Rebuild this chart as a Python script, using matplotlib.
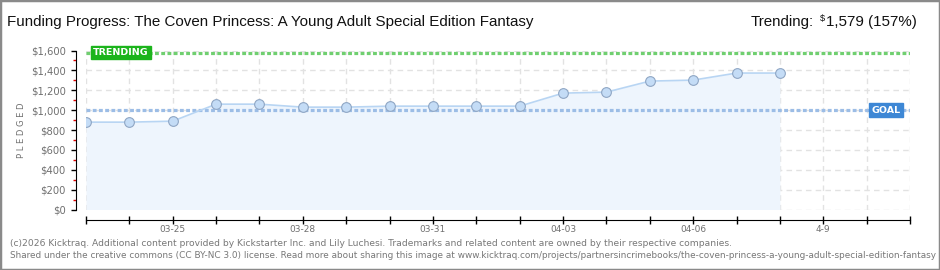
import matplotlib
matplotlib.use("Agg")
import matplotlib.pyplot as plt
from matplotlib.patches import Rectangle
from matplotlib.ticker import FixedLocator, FuncFormatter

# ---- data ----
dates = ['03-23', '03-24', '03-25', '03-26', '03-27', '03-28', '03-29', '03-30',
         '03-31', '04-01', '04-02', '04-03', '04-04', '04-05', '04-06', '04-07',
         '04-08', '04-09', '04-10', '04-11']
pledged = [879, 879, 889, 1060, 1060, 1030, 1030, 1040, 1040, 1040, 1040,
           1171, 1181, 1292, 1302, 1373, 1373]
tick_labels = {2: '03-25', 5: '03-28', 8: '03-31', 11: '04-03', 14: '04-06', 17: '4-9'}
goal = 1000
trending = 1579
trending_pct = 157
y_ticks = [0, 200, 400, 600, 800, 1000, 1200, 1400, 1600]

title = "Funding Progress: The Coven Princess: A Young Adult Special Edition Fantasy"
footer1 = ("(c)2026 Kicktraq. Additional content provided by Kickstarter Inc. and Lily Luchesi. "
           "Trademarks and related content are owned by their respective companies.")
footer2 = ("Shared under the creative commons (CC BY-NC 3.0) license. Read more about sharing this image at "
           "www.kicktraq.com/projects/partnersincrimebooks/the-coven-princess-a-young-adult-special-edition-fantasy")

W, H = 940, 270
fig = plt.figure(figsize=(W / 100, H / 100), dpi=100)
fig.patch.set_facecolor('white')

TFONT = ['Liberation Sans Narrow', 'Liberation Sans', 'DejaVu Sans']

def fx(px):
    return px / W

def fy(py):
    return 1 - py / H

ax = fig.add_axes([fx(86), fy(209.5), fx(910) - fx(86), fy(50.5) - fy(209.5)])
ax.set_facecolor('none')

xs = list(range(len(pledged)))
ax.set_xlim(0, len(dates) - 1)
ax.set_ylim(0, 1600)

# grid
for i in range(len(dates)):
    ax.axvline(i, color='#e2e2e2', lw=1, ls=(0, (4, 3)), zorder=0)
for v in y_ticks:
    ax.axhline(v, color='#e2e2e2', lw=1, ls=(0, (4, 3)), zorder=0)

# area + line
ax.fill_between(xs, pledged, 0, color='#eef5fd', zorder=1, lw=0)
ax.plot(xs, pledged, color='#b8d5f3', lw=1.2, zorder=3)
ax.plot(xs, pledged, ls='none', marker='o', ms=7, mfc='#c4dcf6', mec='#8fa6c4',
        mew=0.8, zorder=4)

# goal / trending lines
ax.axhline(goal, color='#9cbde6', lw=2.3, ls=(0, (1.2, 0.75)), zorder=2)
ax.axhline(trending, color='#70cf70', lw=2.3, ls=(0, (1.2, 0.75)), zorder=2)

ax.text(0.17, trending, 'TRENDING', color='white', fontsize=6.8, fontweight='bold',
        va='center', ha='left', zorder=5,
        bbox=dict(boxstyle='square,pad=0.25', fc='#1cb41c', ec='#1cb41c'))
ax.text(18.12, goal, 'GOAL', color='white', fontsize=6.8, fontweight='bold',
        va='center', ha='left', zorder=5,
        bbox=dict(boxstyle='square,pad=0.25', fc='#3d87d5', ec='#3d87d5'))

# spines
for s in ['top', 'right']:
    ax.spines[s].set_visible(False)
ax.spines['left'].set_position(('outward', 7.2))
ax.spines['bottom'].set_position(('outward', 7.5))
ax.spines['left'].set_color('black')
ax.spines['bottom'].set_color('black')
ax.spines['left'].set_bounds(0, 1600)

ax.yaxis.set_major_locator(FixedLocator(y_ticks))
ax.yaxis.set_minor_locator(FixedLocator([v + 100 for v in y_ticks[:-1]]))
ax.yaxis.set_major_formatter(FuncFormatter(lambda v, p: '${:,.0f}'.format(v)))
ax.tick_params(axis='y', which='major', length=3.5, width=1, color='black',
               labelsize=7.2, labelcolor='#707070', pad=4)
ax.tick_params(axis='y', which='minor', length=2.5, width=1, color='#e00000')

ax.xaxis.set_major_locator(FixedLocator(list(range(len(dates)))))
ax.xaxis.set_major_formatter(FuncFormatter(lambda v, p: tick_labels.get(int(round(v)), '')))
ax.tick_params(axis='x', which='major', direction='inout', length=6, width=1,
               color='black', labelsize=6.5, labelcolor='#707070', pad=1)

fig.text(fx(22), fy(130), 'P L E D G E D', rotation=90, color='#707070', fontsize=6,
         ha='center', va='center')

# title
fig.canvas.draw()
r = fig.canvas.get_renderer()
tt = fig.text(fx(7), fy(22), title, fontsize=11, family=TFONT,
              color='#111111', ha='left', va='center')
tw = tt.get_window_extent(r).width
tsize = 11 * 525.0 / tw
tt.set_fontsize(tsize)

# trending text on right
t1 = fig.text(fx(917), fy(22), '{:,} ({}%)'.format(trending, trending_pct),
              fontsize=tsize, family=TFONT, color='#111111',
              ha='right', va='center')
w1 = t1.get_window_extent(r).width
t2 = fig.text(fx(917 - w1 - 1), fy(18), '$', fontsize=tsize * 0.6, family=TFONT,
              color='#111111', ha='right', va='center')
w2 = t2.get_window_extent(r).width
fig.text(fx(917 - w1 - w2 - 7), fy(22), 'Trending:', fontsize=tsize,
         family=TFONT, color='#111111', ha='right', va='center')

# footer
fig.text(fx(10), fy(243), footer1, fontsize=6.6, color='#777777', ha='left', va='center')
f2 = fig.text(fx(10), fy(255), footer2, fontsize=6.6, color='#777777', ha='left', va='center')
fw = f2.get_window_extent(r).width
if fw > 922:
    f2.set_fontsize(6.6 * 922.0 / fw)

# border
fig.patches.append(Rectangle((0, 0), 1, 1, transform=fig.transFigure, fill=False,
                             ec='#8a8a8a', lw=2.5))

fig.savefig('out.png', dpi=100)
